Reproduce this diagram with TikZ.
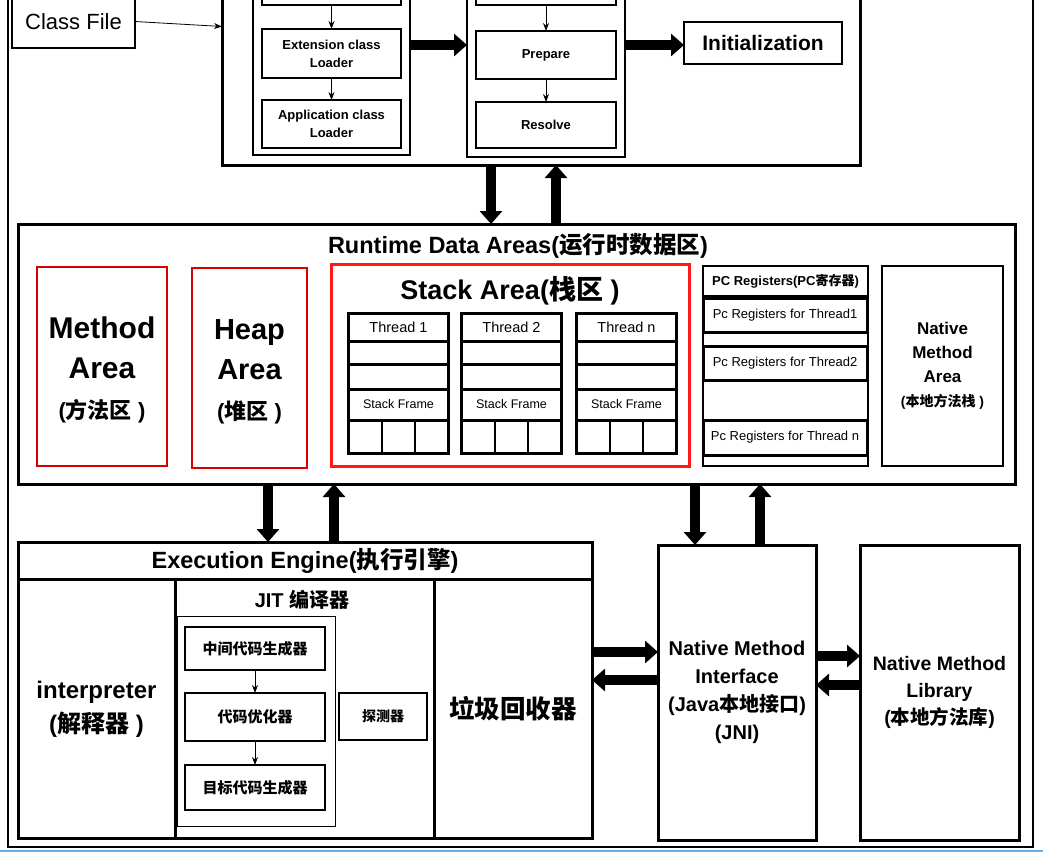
\documentclass[tikz,border=0pt]{standalone}
\usepackage{fontspec}
\setmainfont{Liberation Sans}
\newfontfamily\cjk{Noto Sans CJK SC}
\usetikzlibrary{positioning,arrows.meta,calc}

\newcommand\setfs[2]{\fontsize{#1}{#2}\selectfont}

\tikzset{
  thinbox/.style={draw, line width=1.5pt, outer sep=0pt, inner sep=0pt, align=center},
  thickbox/.style={draw, line width=3pt, outer sep=0pt, inner sep=0pt, align=center},
  redbox/.style={draw=red!85!black, line width=1.5pt, outer sep=0pt, inner sep=0pt, align=center},
  threadcell/.style={draw, line width=3pt, outer sep=0pt, inner sep=0pt, minimum width=100pt},
  bigarrow/.style={line width=10pt, -{Triangle[length=13pt,width=22pt]}},
  smallarrow/.style={line width=0.8pt, -{Stealth[length=8pt,width=6pt]}},
}

\begin{document}
\begin{tikzpicture}[x=1pt,y=-1pt]
 \useasboundingbox (0,0) rectangle (1043,852);

 %Frame
 \draw[line width=2pt] (8,-10) rectangle (1033,847);
 \draw[line width=1.5pt, cyan!70!blue!60] (0,851) -- (1043,851);

 %Class loading
 \node[thinbox, minimum width=123pt, minimum height=53pt, font=\setfs{22}{24}] (classfile) at (73.5,21.5) {Class File};
 \node[thickbox, minimum width=638pt, minimum height=185pt] (loader) at (541,72.5) {};

 \node[thinbox, minimum width=157pt, minimum height=175pt] (col1) at (331.5,67.5) {};
 \node[thinbox, minimum width=139pt, minimum height=45pt] (boot) at (331.5,-17.5) {};
 \node[thinbox, minimum width=139pt, minimum height=49pt, font=\setfs{13}{18}\bfseries] (ext) at (331.5,53.5) {Extension class\\Loader};
 \node[thinbox, minimum width=139pt, minimum height=48pt, font=\setfs{13}{18}\bfseries] (app) at (331.5,124) {Application class\\Loader};

 \node[thinbox, minimum width=158pt, minimum height=177pt] (col2) at (546,68.5) {};
 \node[thinbox, minimum width=140pt, minimum height=45pt] (verify) at (546,-17.5) {};
 \node[thinbox, minimum width=140pt, minimum height=48pt, font=\setfs{13}{15}\bfseries] (prepare) at (546,55) {Prepare};
 \node[thinbox, minimum width=140pt, minimum height=46pt, font=\setfs{13}{15}\bfseries] (resolve) at (546,125) {Resolve};

 \node[thinbox, minimum width=158pt, minimum height=42pt, font=\setfs{21}{24}\bfseries] (init) at (763,43) {Initialization};

 \draw[smallarrow] (classfile.east) -- ([yshift=-5pt]classfile.east -| loader.west);
 \draw[smallarrow] (boot) -- (ext);
 \draw[smallarrow] (ext) -- (app);
 \draw[smallarrow] (verify) -- (prepare);
 \draw[smallarrow] (prepare) -- (resolve);

 \coordinate (lh) at (0,45);
 \draw[bigarrow] (col1.east |- lh) -- (col2.west |- lh);
 \draw[bigarrow] (col2.east |- lh) -- (init.west |- lh);

 %Runtime data areas
 \node[thickbox, minimum width=997pt, minimum height=260pt] (runtime) at (516.5,354) {};
 \node[font=\setfs{23.5}{26}\bfseries] (rtitle) at (518,246) {Runtime Data Areas({\cjk 运行时数据区})};

 \coordinate (ld) at (491,0);
 \coordinate (lu) at (556,0);
 \draw[bigarrow] (loader.south -| ld) -- (runtime.north -| ld);
 \draw[bigarrow] (runtime.north -| lu) -- (loader.south -| lu);

 \node[redbox, minimum width=130pt, minimum height=199pt] (method) at (102,366.5) {};
 \node[align=center, font=\setfs{30}{40}\bfseries] (methodname) at (102,370) {Method\\Area\\{\setfs{22}{40}({\cjk 方法区} )}};
 \node[redbox, minimum width=115pt, minimum height=200pt] (heap) at (249.5,368) {};
 \node[align=center, font=\setfs{29}{40}\bfseries] (heapname) at (249.5,372) {Heap\\Area\\{\setfs{22}{40}({\cjk 堆区} )}};

 \node[redbox, draw=red!90, line width=3pt, minimum width=358pt, minimum height=202pt] (stack) at (510,365) {};
 \node[font=\setfs{27}{30}\bfseries] (stackname) at (510,291) {Stack Area({\cjk 栈区} )};

 \foreach \i/\x/\name in {1/398.5/Thread 1,2/511.5/Thread 2,3/626.5/Thread n}{
   \node[threadcell, minimum height=28pt, font=\setfs{14.5}{16}] (th\i) at (\x,327) {\name};
   \node[threadcell, minimum height=23pt, below=0pt of th\i] (ea\i) {};
   \node[threadcell, minimum height=25pt, below=0pt of ea\i] (eb\i) {};
   \node[threadcell, minimum height=31pt, below=0pt of eb\i, font=\setfs{12.5}{14}] (sf\i) {Stack Frame};
   \node[threadcell, minimum height=33pt, below=0pt of sf\i] (lv\i) {};
   \draw[line width=1.5pt] ($(lv\i.north west)!1/3!(lv\i.north east)$) -- ($(lv\i.south west)!1/3!(lv\i.south east)$);
   \draw[line width=1.5pt] ($(lv\i.north west)!2/3!(lv\i.north east)$) -- ($(lv\i.south west)!2/3!(lv\i.south east)$);
 }

 \node[thinbox, minimum width=165pt, minimum height=200pt] (pc) at (785.5,366) {};
 \node[thinbox, minimum width=165pt, minimum height=30pt, font=\setfs{13}{15}\bfseries] (pctitle) at (785.5,281) {PC Registers(PC{\cjk 寄存器})};
 \node[thickbox, minimum width=164pt, minimum height=34pt, font=\setfs{13}{15}] (pc1) at (785,315) {Pc Registers for Thread1};
 \node[thickbox, minimum width=164pt, minimum height=34pt, font=\setfs{13}{15}] (pc2) at (785,363) {Pc Registers for Thread2};
 \node[thickbox, minimum width=164pt, minimum height=35pt, font=\setfs{13}{15}] (pcn) at (785,437.5) {Pc Registers for Thread n};

 \node[thinbox, minimum width=121pt, minimum height=200pt, font=\setfs{17}{24}\bfseries] (nativearea) at (942.5,366) {Native\\Method\\Area\\{\setfs{14}{24}({\cjk 本地方法栈} )}};

 %Execution engine
 \node[thickbox, minimum width=574pt, minimum height=296pt] (exec) at (305,690) {};
 \node[thickbox, minimum width=574pt, minimum height=37pt, font=\setfs{23.5}{26}\bfseries] (etitle) at (305,560.5) {Execution Engine({\cjk 执行引擎})};
 \node[thickbox, minimum width=157pt, minimum height=259pt, font=\setfs{24}{34}\bfseries] (interp) at (96.5,709) {interpreter\\({\cjk 解释器} )};
 \node[thickbox, minimum width=259pt, minimum height=259pt] (jit) at (304.5,708.5) {};
 \node[thickbox, minimum width=158pt, minimum height=259pt, font=\setfs{25.5}{28}\bfseries] (gc) at (513,708.5) {\cjk 垃圾回收器};

 \node[font=\setfs{20}{22}\bfseries] (jittitle) at (302,600) {JIT {\cjk 编译器}};
 \node[draw, line width=1pt, outer sep=0pt, minimum width=158pt, minimum height=210pt] (jitin) at (256,721) {};
 \node[thinbox, minimum width=140pt, minimum height=43pt, font=\setfs{15}{17}\bfseries\cjk] (ir) at (255,648.5) {中间代码生成器};
 \node[thinbox, minimum width=140pt, minimum height=48pt, font=\setfs{15}{17}\bfseries\cjk] (opt) at (255,717) {代码优化器};
 \node[thinbox, minimum width=140pt, minimum height=45pt, font=\setfs{15}{17}\bfseries\cjk] (gen) at (255,787.5) {目标代码生成器};
 \node[thinbox, minimum width=88pt, minimum height=47pt, font=\setfs{14}{16}\bfseries\cjk] (probe) at (383,716.5) {探测器};
 \draw[smallarrow] (ir) -- (opt);
 \draw[smallarrow] (opt) -- (gen);

 %Native side
 \node[thickbox, minimum width=158pt, minimum height=295pt, font=\setfs{20}{28}\bfseries] (nmi) at (737,692.5) {Native Method\\Interface\\(Java{\cjk 本地接口})\\(JNI)};
 \node[thickbox, minimum width=159pt, minimum height=295pt, font=\setfs{19.5}{27}\bfseries] (nml) at (939.5,692.5) {Native Method\\Library\\({\cjk 本地方法库})};

 \coordinate (rd1) at (268,0);
 \coordinate (ru1) at (334,0);
 \coordinate (rd2) at (695,0);
 \coordinate (ru2) at (760,0);
 \draw[bigarrow] (runtime.south -| rd1) -- (exec.north -| rd1);
 \draw[bigarrow] (exec.north -| ru1) -- (runtime.south -| ru1);
 \draw[bigarrow] (runtime.south -| rd2) -- (nmi.north -| rd2);
 \draw[bigarrow] (nmi.north -| ru2) -- (runtime.south -| ru2);

 \coordinate (h1) at (0,652);
 \coordinate (h2) at (0,680);
 \coordinate (h3) at (0,656);
 \coordinate (h4) at (0,685);
 \draw[bigarrow] (exec.east |- h1) -- (nmi.west |- h1);
 \draw[bigarrow] (nmi.west |- h2) -- (exec.east |- h2);
 \draw[bigarrow] (nmi.east |- h3) -- (nml.west |- h3);
 \draw[bigarrow] (nml.west |- h4) -- (nmi.east |- h4);
\end{tikzpicture}
\end{document}
